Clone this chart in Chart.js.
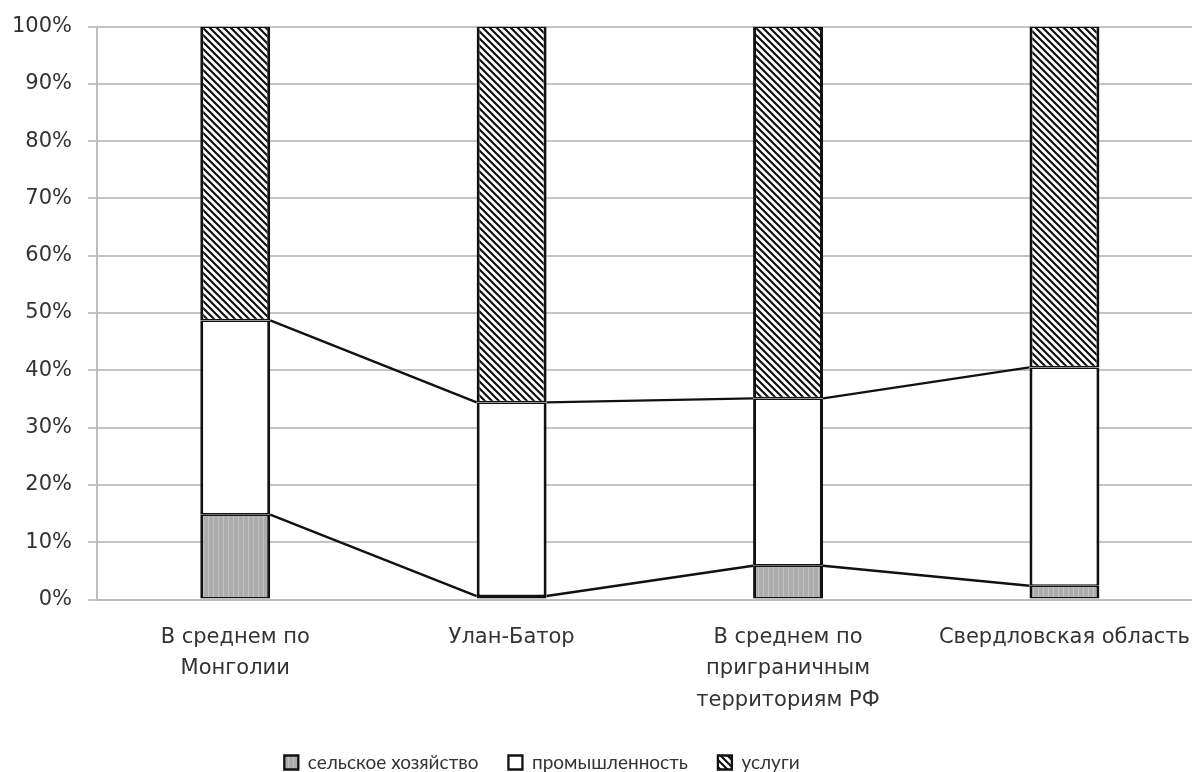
<!DOCTYPE html>
<html>
<head>
<meta charset="utf-8">
<script src="https://cdn.jsdelivr.net/npm/chart.js@4"></script>
<style>
  body { margin: 0; background: #fff; overflow: hidden; }
  #wrap { width: 1204px; height: 772px; }
</style>
</head>
<body>
<div id="wrap"><canvas id="chart"></canvas></div>
<script>
const regions = [
  ["В среднем по", "Монголии"],
  "Улан-Батор",
  ["В среднем по", "приграничным", "территориям РФ"],
  "Свердловская область"
];
const agriculture = [14.8, 0.6, 5.9, 2.4];
const industry = [33.9, 33.8, 29.2, 38.1];
const services = [51.3, 65.6, 64.9, 59.5];
const yTicks = [0, 10, 20, 30, 40, 50, 60, 70, 80, 90, 100];

function hatch() {
  const c = document.createElement("canvas");
  c.width = 7; c.height = 7;
  const g = c.getContext("2d");
  g.fillStyle = "#fff";
  g.fillRect(0, 0, 7, 7);
  g.strokeStyle = "#111";
  g.lineWidth = 2.2;
  g.beginPath();
  g.moveTo(-2, -2); g.lineTo(9, 9);
  g.moveTo(-9, -2); g.lineTo(2, 9);
  g.moveTo(5, -2); g.lineTo(16, 9);
  g.stroke();
  return g.createPattern(c, "repeat");
}

function grayStripes() {
  const c = document.createElement("canvas");
  c.width = 5; c.height = 1;
  const g = c.getContext("2d");
  g.fillStyle = "#acacac";
  g.fillRect(0, 0, 5, 1);
  g.fillStyle = "#c2c2c2";
  g.fillRect(3, 0, 1, 1);
  return g.createPattern(c, "repeat");
}

// Excel-style series lines between the tops of stacked segments
const seriesLines = {
  id: "seriesLines",
  afterDatasetsDraw(chart) {
    const ctx = chart.ctx;
    ctx.save();
    ctx.strokeStyle = "#111";
    ctx.lineWidth = 2.4;
    for (let d = 0; d < 2; d++) {
      const bars = chart.getDatasetMeta(d).data;
      for (let i = 0; i < bars.length - 1; i++) {
        const a = bars[i], b = bars[i + 1];
        ctx.beginPath();
        ctx.moveTo(a.x + a.width / 2, a.y);
        ctx.lineTo(b.x - b.width / 2, b.y);
        ctx.stroke();
      }
    }
    ctx.restore();
  }
};

// tighter legend box, and shift it left like the original
const legendTweak = {
  id: "legendTweak",
  beforeInit(chart) {
    const fit = chart.legend.fit;
    chart.legend.fit = function () {
      fit.call(this);
      this.height -= 10;
    };
  },
  afterUpdate(chart) {
    chart.legend.left -= 66;
    chart.legend.right -= 66;
  }
};

const axisFont = { family: "'DejaVu Sans', sans-serif", size: 21 };
const legendFont = { family: "Lato, sans-serif", size: 19 };
const ds = (label, data, bg) => ({
  label, data,
  backgroundColor: bg,
  borderColor: "#111",
  borderWidth: { left: 3, right: 3, top: 1.6, bottom: 1.6 },
  borderSkipped: false,
  barPercentage: 0.253,
  categoryPercentage: 1
});

new Chart(document.getElementById("chart"), {
  type: "bar",
  data: {
    labels: regions,
    datasets: [
      ds("сельское хозяйство", agriculture, grayStripes()),
      ds("промышленность", industry, "#fff"),
      ds("услуги", services, hatch())
    ]
  },
  options: {
    responsive: true,
    maintainAspectRatio: false,
    animation: false,
    layout: { padding: { top: 0, left: 12, right: 0, bottom: 0 } },
    scales: {
      x: {
        stacked: true,
        grid: { display: false },
        border: { color: "#bdbdbd", width: 2 },
        ticks: { color: "#333", font: { ...axisFont, lineHeight: 1.5 }, padding: 14, maxRotation: 0, autoSkip: false },
        afterFit: (s) => { s.height -= 7; }
      },
      y: {
        stacked: true,
        min: 0,
        max: 100,
        afterBuildTicks: (s) => { s.ticks = yTicks.map(v => ({ value: v })); },
        ticks: { color: "#333", font: { ...axisFont, lineHeight: 1.0 }, padding: 16, callback: v => v + "%" },
        grid: { color: "#c4c4c4", lineWidth: 2, tickLength: 9 },
        border: { color: "#bdbdbd", width: 2 },
        afterFit: (s) => { s.width -= 16; }
      }
    },
    plugins: {
      legend: {
        position: "bottom",
        labels: { color: "#333", font: legendFont, boxWidth: 14, boxHeight: 14, padding: 30 }
      },
      tooltip: { enabled: false }
    }
  },
  plugins: [seriesLines, legendTweak]
});
</script>
</body>
</html>
